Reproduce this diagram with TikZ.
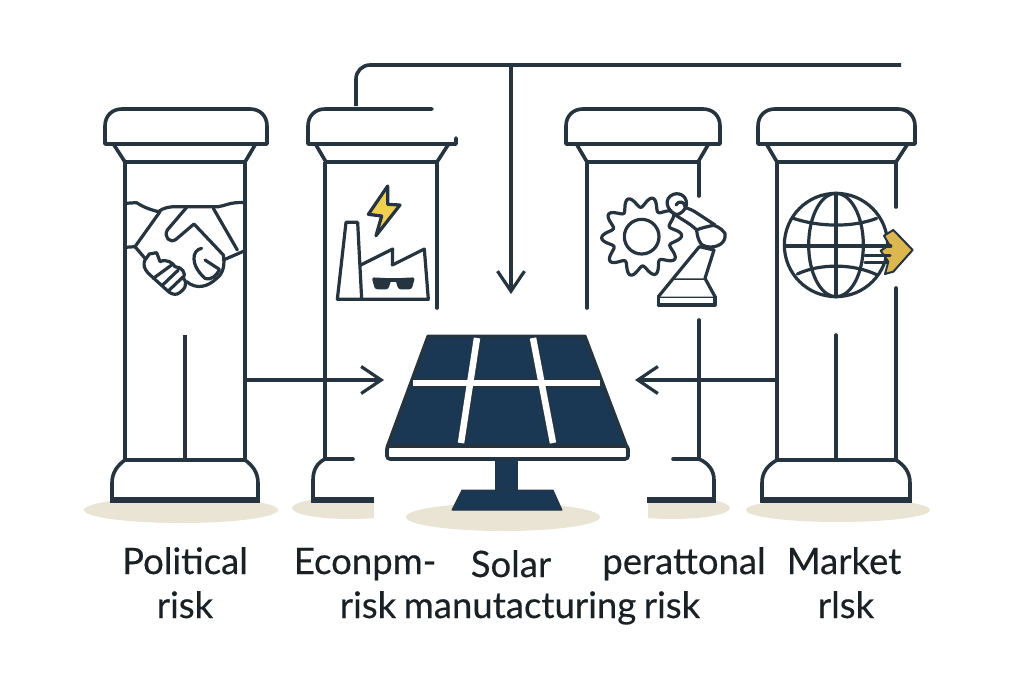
\documentclass[tikz,border=0pt]{standalone}
\usepackage{fontspec}
\setmainfont{Lato}[FakeBold=0.35]
\newfontfamily\labfont{Lato}[FakeBold=0.35]
\usetikzlibrary{arrows.meta}
\definecolor{ink}{HTML}{26343F}
\definecolor{navy}{HTML}{1A3854}
\definecolor{sand}{HTML}{E9E4D4}
\definecolor{bolt}{HTML}{F0CF55}
\definecolor{gold}{HTML}{DCB750}
\definecolor{txt}{HTML}{1A2024}
\tikzset{
  ln/.style={draw=ink,line width=3.6pt,line join=round},
  thick base/.style={draw=ink,line width=6pt},
  icon/.style={draw=ink,line width=3.2pt,line join=round,line cap=round},
  conn/.style={draw=ink,line width=3.2pt,-{Straight Barb[length=20pt,width=27pt,line width=3.2pt]}},
  lab/.style={inner sep=0pt,text=txt,font=\labfont\fontsize{36.5}{36.5}\selectfont,anchor=base},
  stripe/.style={draw=white,line width=6.5pt},
  shadow/.style={fill=sand,draw=none}
}
\newcommand{\capneck}[6]{%
  \draw[ln] (#1,144)--(#1,126) .. controls (#1,116) and ({#1+7},109) .. ({#1+17},109)
     --({#2-17},109) .. controls ({#2-7},109) and (#2,116) .. (#2,126)--(#2,144)--cycle;
  \draw[ln] (#3,145)--(#5,162)--(#6,162)--(#4,145);
}
\begin{document}
\begin{tikzpicture}[x=1pt,y=-1pt]
\useasboundingbox (0,0) rectangle (1024,683);
% shadows
\fill[shadow] (181,510) ellipse [x radius=97,y radius=13];
\fill[shadow] (838,510) ellipse [x radius=92,y radius=12];
\fill[shadow] (503,517) ellipse [x radius=97,y radius=14];
\begin{scope}
\clip (280,490) [rounded corners=2pt] rectangle (374,520);
\fill[shadow] (350,508) ellipse [x radius=58,y radius=11];
\end{scope}
\begin{scope}
\clip (648,490) [rounded corners=2pt] rectangle (740,520);
\fill[shadow] (672,508) ellipse [x radius=58,y radius=11];
\end{scope}

% pillar 1
\capneck{105}{267}{114}{255}{125}{245}
\draw[ln] (125,162)--(125,460) (245,162)--(245,460) (185,335)--(185,460);
\draw[ln] (125,460)--(245,460);
\draw[ln] (112,500)--(112,483) .. controls (112,472) and (118,465) .. (125,460)
          (258,500)--(258,483) .. controls (258,472) and (252,465) .. (245,460);
\draw[thick base] (110,500)--(260,500);

% pillar 2
\draw[ln,line cap=round] (432,109)--(325,109) .. controls (315,109) and (308,116) .. (308,126)--(308,144)--(456,144)--(456,138);
\draw[ln] (316,145)--(326,162)--(437,162)--(448,145);
\draw[ln] (325,162)--(325,459);
\draw[ln,line cap=round] (437,162)--(437,308) (353,459)--(325,459);
\draw[ln] (325,459) .. controls (317,463) and (313,470) .. (313,480)--(313,500);
\draw[thick base] (311,500)--(374,500);

% pillar 3
\capneck{566}{720}{577}{708}{587}{698}
\draw[ln,line cap=round] (587,162)--(587,308) (699,162)--(699,196) (699,320)--(699,459) (673,459)--(699,459);
\draw[ln] (699,459) .. controls (708,463) and (714,470) .. (714,480)--(714,500);
\draw[thick base] (647,500)--(716,500);

% pillar 4
\capneck{758}{915}{767}{907}{777}{896}
\draw[ln,line cap=round] (777,162)--(777,460) (896,162)--(896,207) (896,288)--(896,460) (836,335)--(836,460) (777,460)--(896,460);
\draw[ln] (762,500)--(762,483) .. controls (762,472) and (768,465) .. (777,460)
          (910,500)--(910,483) .. controls (910,472) and (904,465) .. (896,460);
\draw[thick base] (760,500)--(912,500);

% handshake
\begin{scope}[shift={(90,90)},scale=1/3]
\draw[icon] (105,340)--(140,338) .. controls (160,352) and (185,360) .. (205,365)
  .. controls (222,352) and (240,350) .. (260,350)--(385,350) .. controls (405,348) and (420,335) .. (465,338);
\draw[icon] (210,365)--(135,470)--(105,472);
\draw[icon] (135,470)--(165,505);
\draw[icon] (370,355)--(442,480);
\draw[icon] (465,482)--(400,510);
\draw[icon] (290,352)--(232,420) .. controls (220,440) and (240,462) .. (258,448)--(312,402)--(400,495)
  .. controls (405,525) and (400,550) .. (380,565) .. controls (355,590) and (320,600) .. (290,575);
\draw[icon] (335,475) .. controls (305,480) and (300,525) .. (345,565) .. controls (365,572) and (380,555) .. (388,540);
\draw[icon] (345,510)--(388,538);
\draw[icon] (165,510)--(178,492)--(200,488)--(210,515)
  .. controls (230,505) and (250,520) .. (255,530) .. controls (275,530) and (290,550) .. (280,565) .. controls (295,580) and (285,600) .. (262,612) .. controls (250,615) and (240,610) .. (230,600)--(175,550) .. controls (160,535) and (160,520) .. (165,510);
\draw[icon] (190,565)--(245,525) (218,585)--(265,540) (238,600)--(280,560);
\end{scope}

% factory
\begin{scope}[shift={(90,90)},scale=1/3]
\draw[icon,fill=bolt] (893,288)--(835,373)--(875,378)--(858,437)--(930,345)--(893,343)--cycle;
\draw[icon] (742,628)--(768,397)--(803,397)--(815,628);
\draw[icon] (742,628)--(1015,628)--(1003,477)--(907,525)--(908,477)--(812,525);
\fill[ink,rounded corners=2.5pt] (845,562)--(905,565)--(895,598)--(855,598)--cycle;
\fill[ink,rounded corners=2.5pt] (915,565)--(975,562)--(965,598)--(925,598)--cycle;
\fill[ink] (895,565) rectangle (925,575);
\end{scope}

% gear and robot
\begin{scope}[shift={(560,90)},scale=1/3]
\draw[icon] plot[domain=0:360,samples=181,smooth cycle] ({245+(104+16*cos(10*\x+18))*cos(\x)},{440+(104+16*cos(10*\x+18))*sin(\x)});
\draw[icon] (245,440) circle [radius=52];
\draw[icon,fill=white] (295,645)--(465,645)--(465,620)--(295,620)--cycle;
\draw[icon,fill=white] (295,620)--(340,565)--(435,565)--(465,620);
\draw[icon,fill=white] (340,565)--(418,470)--(462,480)--(435,565);
\draw[icon,fill=white] (410,415) .. controls (425,400) and (470,395) .. (495,430) .. controls (500,460) and (470,475) .. (440,470) .. controls (420,470) and (410,440) .. (410,415)--cycle;
\draw[icon,fill=white] (330,362) .. controls (355,345) and (385,350) .. (415,372) .. controls (435,385) and (450,395) .. (465,405) .. controls (440,410) and (420,415) .. (410,420) .. controls (385,395) and (355,385) .. (330,362)--cycle;
\draw[icon,fill=white] (345,372) .. controls (320,360) and (310,325) .. (340,313) .. controls (365,305) and (385,325) .. (378,350) .. controls (365,375) and (350,375) .. (345,372)--cycle;
\draw[icon] (348,345) .. controls (355,330) and (375,335) .. (375,350);
\end{scope}

% globe
\begin{scope}[shift={(560,90)},scale=1/3]
\draw[icon] (828,465) circle [radius=155];
\draw[icon] (828,465) ellipse [x radius=82,y radius=155];
\draw[icon] (828,310)--(828,620);
\draw[icon] (675,468)--(990,468);
\draw[icon] (700,385) .. controls (780,412) and (880,412) .. (950,385);
\draw[icon] (712,552) .. controls (780,520) and (880,520) .. (952,555);
\draw[icon,fill=gold,line width=2pt] (972,437)--(1000,420)--(1058,480)--(1000,545)--(975,552)--(985,515)--(962,482)--(988,465)--cycle;
\draw[icon,line width=3.4pt] (915,468)--(992,468) (915,497)--(990,497) (915,518)--(980,518);
\end{scope}

% solar panel
\fill[navy,draw=ink,line width=3pt,line join=round] (428,336)--(585,336)--(627,447)--(387,447)--cycle;
\draw[draw=ink,line width=10pt] (413,383)--(600,383);
\draw[draw=ink,line width=9pt] (477,340)--(461,443) (533,340)--(553,443);
\draw[stripe] (413,383)--(600,383);
\draw[stripe] (477,338)--(461,443) (533,338)--(553,443);
\draw[fill=white,draw=ink,line width=3.6pt,rounded corners=3pt] (387,446) rectangle (628,459);
\fill[navy] (495,460) rectangle (518,492);
\fill[navy,draw=ink,line width=1pt,line join=round] (462,490)--(553,490)--(562,510)--(452,510)--cycle;

% connectors
\coordinate (politicalEdge) at (246,380);
\coordinate (marketEdge) at (777,380);
\coordinate (panelLeft) at (384,380);
\coordinate (panelRight) at (635,380);
\coordinate (panelTop) at (511,294);
\coordinate (busStart) at (356,106);
\coordinate (busEnd) at (901,65);
\coordinate (busTap) at (511,65);
\draw[ln,rounded corners=14pt] (busStart)--(356,65)--(busEnd);
\draw[conn] (busTap)--(panelTop);
\draw[conn] (politicalEdge)--(panelLeft);
\draw[conn] (marketEdge)--(panelRight);

% labels
\node[lab] (l1) at (185,574) {Political};
\node[lab] (l2) at (185,618) {risk};
\node[lab] (l3) at (365,574) {Econpm-};
\node[lab] (l4) at (368,618) {risk};
\node[lab] (l5) at (511,577) {Solar};
\node[lab] (l6) at (520,618) {manutacturing};
\node[lab] (l7) at (672,618) {risk};
\node[lab] (l8) at (684,574) {perattonal};
\node[lab] (l9) at (844,574) {Market};
\node[lab] (l10) at (846,618) {rlsk};
\end{tikzpicture}
\end{document}
